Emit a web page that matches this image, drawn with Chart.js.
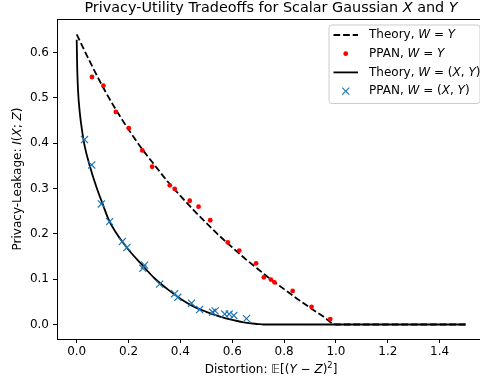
<!DOCTYPE html>
<html>
<head>
<meta charset="utf-8">
<script src="https://cdn.jsdelivr.net/npm/chart.js@4.4.0/dist/chart.umd.min.js"></script>
<style>
    html, body { margin: 0; padding: 0; background: #fff; overflow: hidden; }
    #wrap { width: 500px; height: 385px; }
</style>
</head>
<body>
<div id="wrap"><canvas id="tradeoffChart" width="500" height="385"></canvas></div>
<script>
// Theory curve for W = Y (dashed line)
const theoryYDist = [0, 0.05, 0.1, 0.15, 0.2, 0.25, 0.3, 0.35, 0.4, 0.45, 0.5, 0.55, 0.6, 0.65, 0.7, 0.75, 0.8, 0.85, 0.9, 0.95, 1.0, 1.5];
const theoryYLeak = [0.640, 0.581, 0.525, 0.475, 0.430, 0.389, 0.352, 0.316, 0.284, 0.253, 0.224, 0.196, 0.170, 0.145, 0.122, 0.099, 0.078, 0.057, 0.037, 0.018, 0, 0];

// PPAN results for W = Y (red dots)
const ppanYDist = [0.059, 0.103, 0.151, 0.201, 0.253, 0.291, 0.359, 0.378, 0.436, 0.470, 0.515, 0.583, 0.627, 0.692, 0.722, 0.749, 0.763, 0.833, 0.906, 0.978];
const ppanYLeak = [0.546, 0.527, 0.469, 0.433, 0.384, 0.348, 0.307, 0.299, 0.273, 0.260, 0.230, 0.181, 0.163, 0.135, 0.104, 0.099, 0.093, 0.074, 0.039, 0.012];

// Theory curve for W = (X, Y) (solid line)
const theoryXYDist = [0, 0.002, 0.005, 0.012, 0.022, 0.031, 0.05, 0.075, 0.1, 0.125, 0.15, 0.2, 0.25, 0.3, 0.35, 0.4, 0.45, 0.5, 0.55, 0.6, 0.65, 0.7, 0.72, 1.5];
const theoryXYLeak = [0.628, 0.565, 0.518, 0.467, 0.423, 0.393, 0.351, 0.305, 0.266, 0.229, 0.204, 0.165, 0.133, 0.102, 0.078, 0.057, 0.040, 0.028, 0.018, 0.010, 0.004, 0.001, 0, 0];

// PPAN results for W = (X, Y) (blue crosses)
const ppanXYDist = [0.030, 0.058, 0.095, 0.127, 0.176, 0.194, 0.255, 0.262, 0.320, 0.378, 0.390, 0.443, 0.474, 0.524, 0.534, 0.571, 0.588, 0.606, 0.655];
const ppanXYLeak = [0.408, 0.352, 0.266, 0.227, 0.183, 0.170, 0.124, 0.131, 0.089, 0.068, 0.060, 0.047, 0.033, 0.027, 0.030, 0.023, 0.023, 0.020, 0.013];

// Tick labels
const xTicks = [0.0, 0.2, 0.4, 0.6, 0.8, 1.0, 1.2, 1.4];
const yTicks = [0.0, 0.1, 0.2, 0.3, 0.4, 0.5, 0.6];

const FAMILY = '"DejaVu Sans", sans-serif';
const BLUE = '#1f77b4';
const RED = '#ff0000';

function pts(xs, ys) {
    return xs.map((x, i) => ({ x: x, y: ys[i] }));
}

// text pieces: [text, italic, superscript]
function fontFor(p, size) {
    const s = p[2] ? size * 0.7 : size;
    return (p[1] ? 'italic ' : '') + s + 'px ' + FAMILY;
}

function drawRich(ctx, parts, x, y, size, align) {
    const widths = parts.map(p => { ctx.font = fontFor(p, size); return ctx.measureText(p[0]).width; });
    const total = widths.reduce((a, b) => a + b, 0);
    let cx = align === 'left' ? x : x - total / 2;
    parts.forEach((p, i) => {
        ctx.font = fontFor(p, size);
        ctx.fillText(p[0], cx, p[2] ? y - size * 0.38 : y);
        cx += widths[i];
    });
}

const legendItems = [
    { kind: 'dash', text: [['Theory, ', false], ['W', true], [' = ', false], ['Y', true]] },
    { kind: 'dot', text: [['PPAN, ', false], ['W', true], [' = ', false], ['Y', true]] },
    { kind: 'line', text: [['Theory, ', false], ['W', true], [' = (', false], ['X', true], [', ', false], ['Y', true], [')', false]] },
    { kind: 'cross', text: [['PPAN, ', false], ['W', true], [' = (', false], ['X', true], [', ', false], ['Y', true], [')', false]] }
];

const decorPlugin = {
    id: 'decor',
    afterDraw(chart) {
        const ctx = chart.ctx;
        const a = chart.chartArea;
        ctx.save();

        // axes frame
        ctx.strokeStyle = '#000';
        ctx.lineWidth = 1;
        ctx.strokeRect(Math.round(a.left) + 0.5, Math.round(a.top) + 0.5,
            Math.round(a.right - a.left) - 1, Math.round(a.bottom - a.top));

        ctx.fillStyle = '#000';
        ctx.textBaseline = 'alphabetic';

        // title
        const midX = (a.left + a.right) / 2;
        drawRich(ctx, [['Privacy-Utility Tradeoffs for Scalar Gaussian ', false], ['X', true], [' and ', false], ['Y', true]],
            midX, a.top - 7.5, 14.4);

        // x label
        ctx.textBaseline = 'middle';
        drawRich(ctx, [['Distortion: \u{1D53C}[(', false], ['Y', true], [' \u2212 ', false], ['Z', true], [')', false], ['2', false, true], [']', false]],
            midX, 370, 12);

        // y label
        ctx.save();
        ctx.translate(18, (a.top + a.bottom) / 2);
        ctx.rotate(-Math.PI / 2);
        drawRich(ctx, [['Privacy-Leakage: ', false], ['I', true], ['(', false], ['X', true], ['; ', false], ['Z', true], [')', false]],
            0, 0, 12);
        ctx.restore();

        // legend
        const bw = 151, bh = 78.5;
        const bx = a.right - 5.5 - bw, by = a.top + 5.5;
        ctx.beginPath();
        ctx.roundRect(bx + 0.5, by + 0.5, bw, bh, 3);
        ctx.fillStyle = 'rgba(255,255,255,0.8)';
        ctx.fill();
        ctx.strokeStyle = '#cccccc';
        ctx.lineWidth = 1;
        ctx.stroke();

        legendItems.forEach((item, i) => {
            const ry = by + 10.5 + i * 18.7;
            const hx0 = bx + 5, hx1 = bx + 29.5, hc = (hx0 + hx1) / 2;
            ctx.strokeStyle = '#000';
            ctx.lineWidth = 1.8;
            if (item.kind === 'dash' || item.kind === 'line') {
                ctx.setLineDash(item.kind === 'dash' ? [6.7, 2.9] : []);
                ctx.beginPath();
                ctx.moveTo(hx0, ry);
                ctx.lineTo(hx1, ry);
                ctx.stroke();
                ctx.setLineDash([]);
            } else if (item.kind === 'dot') {
                ctx.fillStyle = RED;
                ctx.beginPath();
                ctx.arc(hc, ry, 2.4, 0, Math.PI * 2);
                ctx.fill();
            } else {
                ctx.strokeStyle = BLUE;
                ctx.lineWidth = 1.2;
                const r = 3.5;
                ctx.beginPath();
                ctx.moveTo(hc - r, ry - r); ctx.lineTo(hc + r, ry + r);
                ctx.moveTo(hc - r, ry + r); ctx.lineTo(hc + r, ry - r);
                ctx.stroke();
            }
            ctx.fillStyle = '#000';
            drawRich(ctx, item.text, bx + 40.5, ry, 12, 'left');
        });

        ctx.restore();
    }
};

const tickFont = { family: FAMILY, size: 12 };

new Chart(document.getElementById('tradeoffChart').getContext('2d'), {
    type: 'scatter',
    data: {
        datasets: [
            {
                label: 'Theory, W = Y',
                data: pts(theoryYDist, theoryYLeak),
                showLine: true,
                borderColor: '#000',
                borderWidth: 1.8,
                borderDash: [6.7, 2.9],
                pointRadius: 0,
                cubicInterpolationMode: 'monotone',
                order: 4
            },
            {
                label: 'PPAN, W = Y',
                data: pts(ppanYDist, ppanYLeak),
                pointStyle: 'circle',
                pointRadius: 2.4,
                backgroundColor: RED,
                borderWidth: 0,
                order: 3
            },
            {
                label: 'Theory, W = (X, Y)',
                data: pts(theoryXYDist, theoryXYLeak),
                showLine: true,
                borderColor: '#000',
                borderWidth: 1.8,
                pointRadius: 0,
                cubicInterpolationMode: 'monotone',
                order: 2
            },
            {
                label: 'PPAN, W = (X, Y)',
                data: pts(ppanXYDist, ppanXYLeak),
                pointStyle: 'crossRot',
                pointRadius: 5,
                borderColor: BLUE,
                borderWidth: 1.2,
                order: 1
            }
        ]
    },
    options: {
        responsive: false,
        animation: false,
        devicePixelRatio: 1,
        layout: { padding: { top: 19, right: 15, left: 0, bottom: 0 } },
        plugins: {
            legend: { display: false },
            title: { display: false },
            tooltip: { enabled: false }
        },
        scales: {
            x: {
                type: 'linear',
                min: -0.076,
                max: 1.575,
                afterFit: s => { s.height = 46; },
                afterBuildTicks: s => { s.ticks = xTicks.map(v => ({ value: v })); },
                grid: { display: true, drawOnChartArea: false, drawTicks: true, tickLength: 4, tickColor: '#000', tickWidth: 1 },
                border: { display: false },
                ticks: { color: '#000', font: tickFont, padding: 2, maxRotation: 0, autoSkip: false, callback: v => v.toFixed(1) }
            },
            y: {
                type: 'linear',
                min: -0.032,
                max: 0.674,
                afterFit: s => { s.width = 57; },
                afterBuildTicks: s => { s.ticks = yTicks.map(v => ({ value: v })); },
                grid: { display: true, drawOnChartArea: false, drawTicks: true, tickLength: 4, tickColor: '#000', tickWidth: 1 },
                border: { display: false },
                ticks: { color: '#000', font: tickFont, padding: 4, autoSkip: false, callback: v => v.toFixed(1) }
            }
        }
    },
    plugins: [decorPlugin]
});
</script>
</body>
</html>
